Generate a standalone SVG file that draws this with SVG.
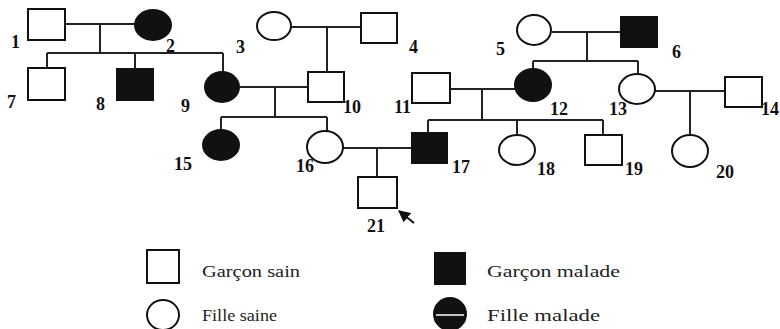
<svg xmlns="http://www.w3.org/2000/svg" width="780" height="329" viewBox="0 0 780 329">
<defs>
<style>
.h{fill:#fff;stroke:#111;stroke-width:2}
.a{fill:#111;stroke:#111;stroke-width:2}
.l{fill:none;stroke:#222;stroke-width:2}
.n{font-family:"Liberation Serif",serif;font-weight:bold;font-size:18px;fill:#111}
.t{font-family:"Liberation Serif",serif;font-size:16px;fill:#222}
</style>
<marker id="ah" viewBox="0 0 10 10" refX="9" refY="5" markerWidth="6" markerHeight="6" orient="auto"><path d="M0,0 L10,5 L0,10 z" fill="#111"/></marker>
</defs>
<rect width="780" height="329" fill="#fff"/>
<g id="connectors">
<path class="l" d="M65,24 H135 M100,24 V53 M47,53 H223 M47,53 V68 M135,53 V69 M223,53 V72"/>
<path class="l" d="M291,27 H361 M327,27 V72"/>
<path class="l" d="M552,32 H621 M587,32 V61 M533,61 H638 M533,61 V69 M638,61 V74"/>
<path class="l" d="M240,87 H308 M275,87 V117 M221,117 H327 M221,117 V130 M327,117 V132"/>
<path class="l" d="M450,89 H515 M482,89 V120 M428,120 H603 M428,120 V133 M517,120 V135 M603,120 V135"/>
<path class="l" d="M655,91 H725 M690,91 V135"/>
<path class="l" d="M343,148 H412 M377,148 V177"/>
<path fill="none" stroke="#111" stroke-width="2" d="M414,223 L399,211" marker-end="url(#ah)"/>
</g>
<g id="n1"><rect class="h" x="28" y="9" width="37" height="31"/><text class="n" x="11" y="48">1</text></g>
<g id="n2"><ellipse class="a" cx="153" cy="25" rx="18" ry="15"/><text class="n" x="166" y="52">2</text></g>
<g id="n3"><ellipse class="h" cx="274" cy="26" rx="17" ry="14"/><text class="n" x="236" y="53">3</text></g>
<g id="n4"><rect class="h" x="361" y="13" width="36" height="30"/><text class="n" x="409" y="53">4</text></g>
<g id="n5"><ellipse class="h" cx="534" cy="30" rx="17" ry="15"/><text class="n" x="496" y="55">5</text></g>
<g id="n6"><rect class="a" x="621" y="17" width="36" height="30"/><text class="n" x="672" y="58">6</text></g>
<g id="n7"><rect class="h" x="28" y="68" width="37" height="32"/><text class="n" x="7" y="108">7</text></g>
<g id="n8"><rect class="a" x="117" y="69" width="36" height="31"/><text class="n" x="96" y="110">8</text></g>
<g id="n9"><ellipse class="a" cx="222" cy="87" rx="17" ry="15"/><text class="n" x="181" y="112">9</text></g>
<g id="n10"><rect class="h" x="308" y="72" width="36" height="30"/><text class="n" x="343" y="113">10</text></g>
<g id="n11"><rect class="h" x="412" y="73" width="38" height="30"/><text class="n" x="394" y="113">11</text></g>
<g id="n12"><ellipse class="a" cx="533" cy="85" rx="18" ry="16"/><text class="n" x="550" y="115">12</text></g>
<g id="n13"><ellipse class="h" cx="637" cy="89" rx="18" ry="15"/><text class="n" x="609" y="115">13</text></g>
<g id="n14"><rect class="h" x="725" y="77" width="37" height="30"/><text class="n" x="761" y="115">14</text></g>
<g id="n15"><ellipse class="a" cx="221" cy="145" rx="18" ry="15"/><text class="n" x="174" y="170">15</text></g>
<g id="n16"><ellipse class="h" cx="325" cy="147" rx="18" ry="16"/><text class="n" x="296" y="172">16</text></g>
<g id="n17"><rect class="a" x="412" y="133" width="35" height="30"/><text class="n" x="452" y="173">17</text></g>
<g id="n18"><ellipse class="h" cx="517" cy="150" rx="18" ry="15"/><text class="n" x="537" y="175">18</text></g>
<g id="n19"><rect class="h" x="585" y="135" width="37" height="30"/><text class="n" x="625" y="175">19</text></g>
<g id="n20"><ellipse class="h" cx="690" cy="151" rx="18" ry="16"/><text class="n" x="716" y="178">20</text></g>
<g id="n21"><rect class="h" x="358" y="177" width="39" height="31"/><text class="n" x="367" y="232">21</text></g>
<g id="legend">
<rect class="h" x="147" y="250" width="32" height="33"/>
<text class="t" x="202" y="277" textLength="98" lengthAdjust="spacingAndGlyphs">Garçon sain</text>
<ellipse class="h" cx="163" cy="315" rx="16" ry="15"/>
<text class="t" x="202" y="321" textLength="75" lengthAdjust="spacingAndGlyphs">Fille saine</text>
<rect class="a" x="435" y="253" width="30" height="31"/>
<text class="t" x="487" y="277" textLength="133" lengthAdjust="spacingAndGlyphs">Garçon malade</text>
<ellipse class="a" cx="450" cy="314" rx="16" ry="16"/>
<line x1="436" y1="315" x2="464" y2="315" stroke="#fff" stroke-width="1.5"/>
<text class="t" x="487" y="321" textLength="113" lengthAdjust="spacingAndGlyphs">Fille malade</text>
</g>
</svg>
